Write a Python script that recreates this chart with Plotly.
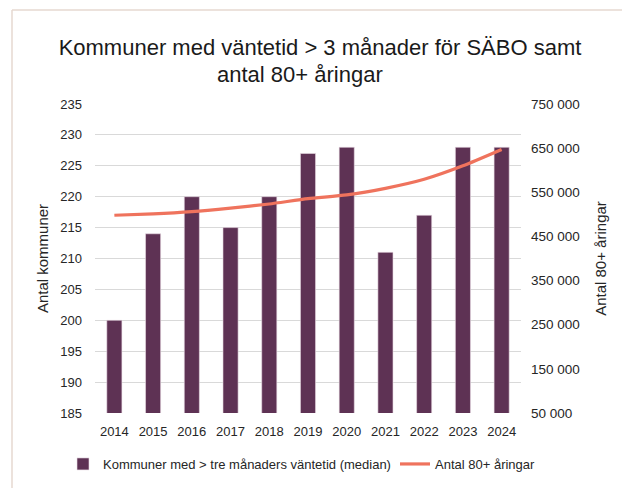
import plotly.graph_objects as go

years = ["2014", "2015", "2016", "2017", "2018", "2019", "2020", "2021", "2022", "2023", "2024"]
kommuner = [200, 214, 220, 215, 220, 227, 228, 211, 217, 228, 228]
antal_80 = [498000, 501000, 506000, 514000, 523500, 535500, 544000, 559000, 579500, 610000, 647000]

bar_name = "Kommuner med > tre månaders väntetid (median)"
line_name = "Antal 80+ åringar"
title_line1 = "Kommuner med väntetid > 3 månader för SÄBO samt"
title_line2 = "antal 80+ åringar"

# the page body has an 8 px margin, so the figure is drawn 8 px in from the window corner
OFF = 8
W, H = 630 - OFF, 488 - OFF
L, R, T, B = 95 - OFF, 109, 104 - OFF, 75
pw, ph = W - L - R, H - T - B

fig = go.Figure()
fig.add_trace(go.Bar(
    x=years, y=kommuner, name=bar_name,
    marker=dict(color="#5E3254", line=dict(color="#EBDDE6", width=0.6)),
    yaxis="y", legend="legend",
))
fig.add_trace(go.Scatter(
    x=years, y=antal_80, name=line_name, mode="lines",
    line=dict(color="#EF735D", width=3.2, shape="spline", smoothing=0.6),
    yaxis="y2", legend="legend2",
))

font = "Liberation Sans, Arial, sans-serif"
leg_y = -(464 - 413) / ph
fig.update_layout(
    width=W, height=H,
    margin=dict(l=L, r=R, t=T, b=B, autoexpand=False),
    paper_bgcolor="white", plot_bgcolor="white",
    font=dict(family=font, color="#262626", size=13),
    separators=", ",
    bargap=0.61,
    title=dict(
        text=title_line1,
        x=(320 - OFF) / W, xanchor="center", xref="container",
        y=1 - (47 - OFF) / H, yanchor="middle", yref="container",
        font=dict(size=22, family=font, color="#1a1a1a"),
    ),
    xaxis=dict(
        type="category", showgrid=False, showline=False, ticks="",
        tickfont=dict(size=13), ticklabelstandoff=9,
    ),
    yaxis=dict(
        range=[185, 235], dtick=5, tick0=185,
        showgrid=True, gridcolor="#D9D9D9", gridwidth=1,
        zeroline=False, showline=False, ticks="",
        tickfont=dict(size=13), ticklabelstandoff=12,
        title=dict(text="Antal kommuner", font=dict(size=15), standoff=8),
    ),
    yaxis2=dict(
        range=[50000, 750000], dtick=100000, tick0=50000,
        overlaying="y", side="right", showgrid=False,
        zeroline=False, showline=False, ticks="",
        tickformat=",d",
        tickfont=dict(size=13.5), ticklabelstandoff=9,
        title=dict(text="Antal 80+ åringar", font=dict(size=15), standoff=16),
    ),
    legend=dict(
        orientation="h", xref="paper", yref="paper",
        x=(63 - 95) / pw, xanchor="left",
        y=leg_y, yanchor="middle",
        font=dict(size=13), bgcolor="rgba(0,0,0,0)",
    ),
    legend2=dict(
        orientation="h", xref="paper", yref="paper",
        x=(395 - 95) / pw, xanchor="left",
        y=leg_y, yanchor="middle",
        font=dict(size=13), bgcolor="rgba(0,0,0,0)",
    ),
    showlegend=True,
)

fig.add_annotation(
    text=title_line2, xref="paper", yref="paper",
    x=(300 - 95) / pw, xanchor="center",
    y=1 + (104 - 75) / ph, yanchor="middle",
    showarrow=False, font=dict(size=22, family=font, color="#1a1a1a"),
)

# Light frame around the chart (left and top edges visible in the reference)
x_left = (12 - 95) / pw
y_top = 1 + (104 - 10) / ph
y_bot = -(B) / ph
fig.add_shape(type="line", xref="paper", yref="paper", x0=x_left, x1=x_left,
              y0=y_bot, y1=y_top, line=dict(color="#E6D9D1", width=1.5))
fig.add_shape(type="line", xref="paper", yref="paper", x0=x_left, x1=1 + R / pw,
              y0=y_top, y1=y_top, line=dict(color="#E6D9D1", width=1.5))

fig.write_html("out.html")
